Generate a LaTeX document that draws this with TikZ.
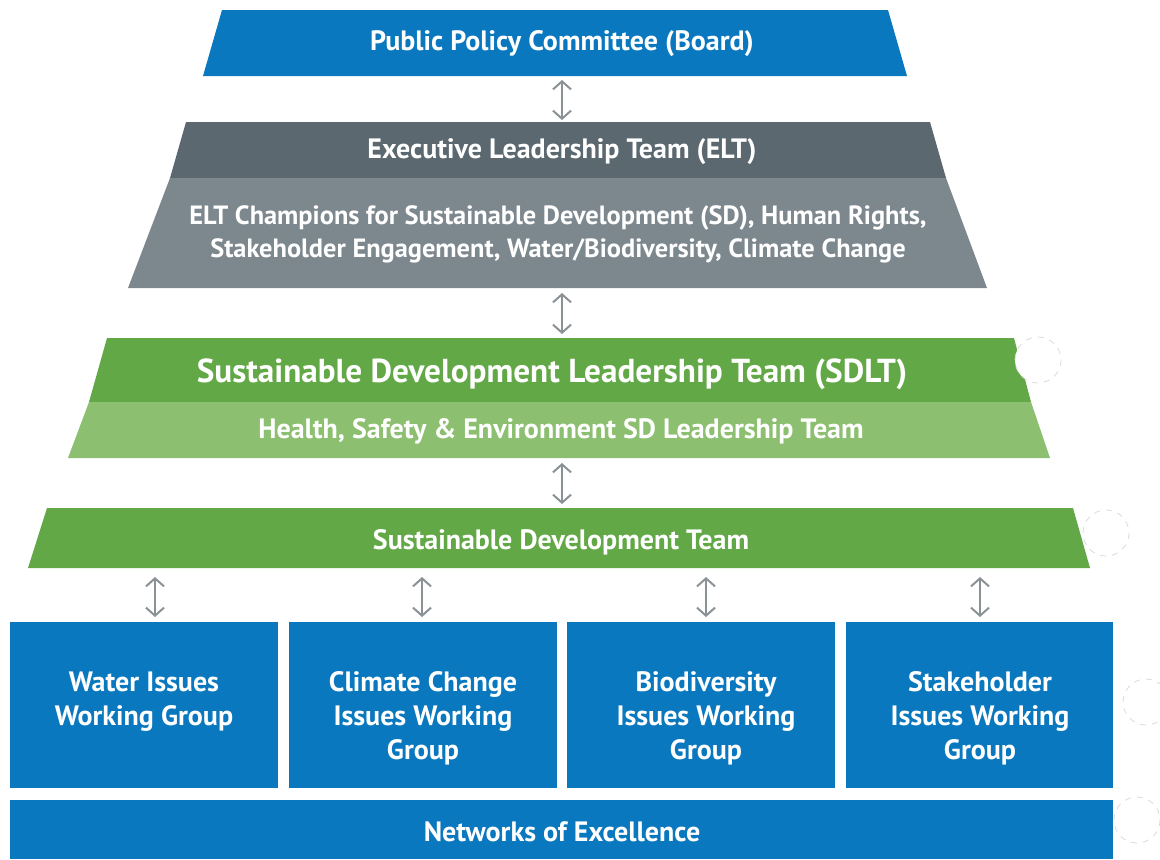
\documentclass[tikz,border=0pt]{standalone}
\usepackage{fontspec}
\setmainfont{PT Sans}
\usetikzlibrary{arrows.meta}
\definecolor{pblue}{HTML}{0A78BE}
\definecolor{gdark}{HTML}{5B6870}
\definecolor{glight}{HTML}{7D888E}
\definecolor{grn}{HTML}{63A846}
\definecolor{lgrn}{HTML}{8CBF70}
\definecolor{arrgray}{HTML}{8A9296}
\tikzset{
  lbl/.style={text=white,font=\bfseries\fontsize{14}{17}\selectfont,align=center,inner sep=0pt},
  smlbl/.style={text=white,font=\bfseries\fontsize{13.2}{16.5}\selectfont,align=center,inner sep=0pt},
  biglbl/.style={text=white,font=\bfseries\fontsize{16.6}{19}\selectfont,align=center,inner sep=0pt},
  arr/.style={draw=arrgray,line width=1pt,{Straight Barb[length=4pt,width=9pt]}-{Straight Barb[length=4pt,width=9pt]}},
  ghost/.style={draw=black!14,fill=white,dashed,line width=0.4pt}
}
\begin{document}
\begin{tikzpicture}[x=0.5pt,y=-0.5pt]
\useasboundingbox (0,0) rectangle (1160,859);
% Board
\fill[pblue] (222,10) -- (888,10) -- (907,76) -- (203,76) -- cycle;
\node[lbl] (board) at (562,44) {Public Policy Committee (Board)};
% ELT
\fill[gdark] (186,122) -- (930,122) -- (946,178) -- (170,178) -- cycle;
\fill[glight] (170,178) -- (946,178) -- (987,288) -- (128,288) -- cycle;
\node[lbl] (elt) at (562,152) {Executive Leadership Team (ELT)};
\node[smlbl] (champ) at (558,234) {ELT Champions for Sustainable Development (SD), Human Rights,\\Stakeholder Engagement, Water/Biodiversity, Climate Change};
% SDLT
\fill[grn] (107,338) -- (1014,338) -- (1031,402) -- (89,402) -- cycle;
\fill[lgrn] (89,402) -- (1031,402) -- (1050,458) -- (68,458) -- cycle;
\node[biglbl] (sdlt) at (552,374) {Sustainable Development Leadership Team (SDLT)};
\node[lbl] (hse) at (561,431) {Health, Safety \& Environment SD Leadership Team};
% SD Team
\fill[grn] (47,508) -- (1073,508) -- (1090,568) -- (28,568) -- cycle;
\node[lbl] (sdt) at (561,542) {Sustainable Development Team};
% Working groups
\fill[pblue] (10,622) rectangle (278,788);
\fill[pblue] (289,622) rectangle (557,788);
\fill[pblue] (567,622) rectangle (835,788);
\fill[pblue] (846,622) rectangle (1113,788);
\node[lbl,anchor=north] (wg1) at (144,671) {Water Issues\\Working Group};
\node[lbl,anchor=north] (wg2) at (423,671) {Climate Change\\Issues Working\\Group};
\node[lbl,anchor=north] (wg3) at (706,671) {Biodiversity\\Issues Working\\Group};
\node[lbl,anchor=north] (wg4) at (980,671) {Stakeholder\\Issues Working\\Group};
% Networks
\fill[pblue] (10,800) rectangle (1113,859);
\node[lbl] (net) at (562,832) {Networks of Excellence};
% connector end points
\coordinate (a1) at (562,80); \coordinate (b1) at (562,120);
\coordinate (a2) at (562,293); \coordinate (b2) at (562,334);
\coordinate (a3) at (562,463); \coordinate (b3) at (562,504);
\coordinate (c1) at (155,577); \coordinate (d1) at (155,617);
\coordinate (c2) at (422,577); \coordinate (d2) at (422,617);
\coordinate (c3) at (706,577); \coordinate (d3) at (706,617);
\coordinate (c4) at (980,577); \coordinate (d4) at (980,617);
\draw[arr] (a1) -- (b1);
\draw[arr] (a2) -- (b2);
\draw[arr] (a3) -- (b3);
\draw[arr] (c1) -- (d1);
\draw[arr] (c2) -- (d2);
\draw[arr] (c3) -- (d3);
\draw[arr] (c4) -- (d4);
% faint circles
\draw[ghost] (1038,360) circle (23);
\draw[ghost] (1106,533) circle (23);
\draw[ghost] (1146,702) circle (23);
\draw[ghost] (1137,820) circle (23);
\end{tikzpicture}
\end{document}
